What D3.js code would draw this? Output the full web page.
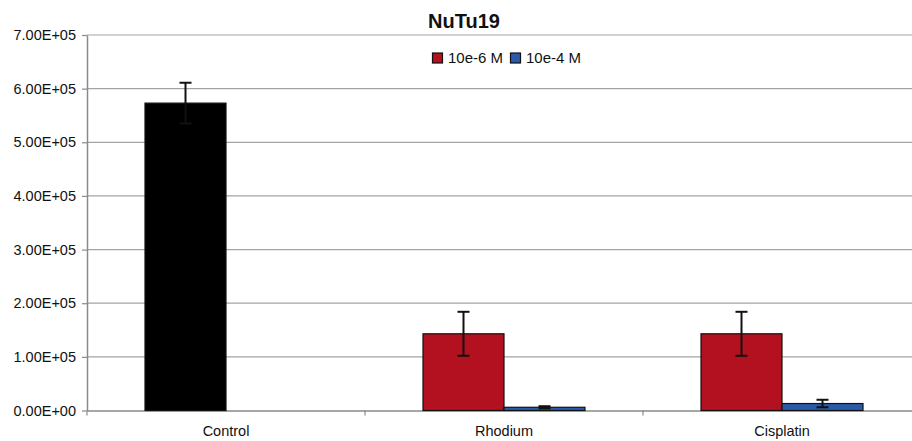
<!DOCTYPE html>
<html>
<head>
<meta charset="utf-8">
<script src="https://cdn.jsdelivr.net/npm/d3@7"></script>
<style>
  html, body { margin: 0; padding: 0; background: #fff; }
  svg { display: block; }
  text { font-family: "Liberation Sans", Arial, Helvetica, sans-serif; fill: #111; }
</style>
</head>
<body>
<svg id="chart" width="912" height="441"></svg>
<script>
// Cell counts for NuTu19 after treatment
const categories = ["Control", "Rhodium", "Cisplatin"];
const seriesNames = ["10e-6 M", "10e-4 M"];
const lowDose = [573000, 143000, 143000];      // 10e-6 M (Control drawn in the first slot)
const lowDoseErr = [38000, 41000, 41000];
const highDose = [null, 6000, 13000];          // 10e-4 M
const highDoseErr = [null, 2000, 7000];
const yTicks = [0, 100000, 200000, 300000, 400000, 500000, 600000, 700000];

const seriesColors = ["#b3111f", "#2a5baa"];
const controlColor = "#000000";

const svg = d3.select("#chart");
const plot = { left: 87, right: 921, top: 35, bottom: 410.5 };

const y = d3.scaleLinear().domain([0, 700000]).range([plot.bottom, plot.top]);
const x0 = d3.scaleBand().domain(categories).range([plot.left, plot.right]).paddingInner(0).paddingOuter(0);
const barW = 81;
const x1 = d3.scaleBand().domain(seriesNames)
  .range([(x0.bandwidth() - 2 * barW) / 2, (x0.bandwidth() + 2 * barW) / 2])
  .paddingInner(0).paddingOuter(0);

function sci(v) {
  if (v === 0) return "0.00E+00";
  const e = Math.floor(Math.log10(Math.abs(v)));
  const m = v / Math.pow(10, e);
  return m.toFixed(2) + "E" + (e >= 0 ? "+" : "-") + String(Math.abs(e)).padStart(2, "0");
}

// gridlines
svg.append("g")
  .selectAll("line")
  .data(yTicks.filter(d => d > 0))
  .join("line")
  .attr("x1", plot.left).attr("x2", plot.right)
  .attr("y1", d => y(d)).attr("y2", d => y(d))
  .attr("stroke", "#a3a3a3").attr("stroke-width", 1.2);

// y axis
const yAxis = svg.append("g")
  .attr("transform", `translate(${plot.left},0)`)
  .call(d3.axisLeft(y).tickValues(yTicks).tickFormat(sci).tickSize(5).tickSizeOuter(0).tickPadding(6));
yAxis.select(".domain").attr("stroke", "#8a8a8a").attr("stroke-width", 1.5);
yAxis.selectAll(".tick line").attr("stroke", "#8a8a8a").attr("stroke-width", 1.2);
yAxis.selectAll(".tick text")
  .style("font-family", "'Liberation Sans', Arial, sans-serif")
  .style("font-size", "14.5px").attr("fill", "#111");

// x axis
const xAxis = svg.append("g")
  .attr("transform", `translate(0,${plot.bottom})`)
  .call(d3.axisBottom(x0).tickSize(0).tickSizeOuter(0).tickPadding(15.5));
xAxis.select(".domain").attr("stroke", "#8a8a8a").attr("stroke-width", 1.5);
xAxis.selectAll(".tick text")
  .style("font-family", "'Liberation Sans', Arial, sans-serif")
  .style("font-size", "14.5px").attr("fill", "#111");
// category separators
svg.append("g")
  .selectAll("line")
  .data(categories)
  .join("line")
  .attr("x1", d => x0(d)).attr("x2", d => x0(d))
  .attr("y1", plot.bottom).attr("y2", plot.bottom + 5)
  .attr("stroke", "#8a8a8a").attr("stroke-width", 1.2);

// bars
const rows = [];
categories.forEach((c, i) => {
  rows.push({ cat: c, s: seriesNames[0], v: lowDose[i], err: lowDoseErr[i],
              color: c === "Control" ? controlColor : seriesColors[0] });
  if (highDose[i] != null) {
    rows.push({ cat: c, s: seriesNames[1], v: highDose[i], err: highDoseErr[i], color: seriesColors[1] });
  }
});

svg.append("g")
  .selectAll("rect")
  .data(rows)
  .join("rect")
  .attr("x", d => x0(d.cat) + x1(d.s))
  .attr("width", x1.bandwidth())
  .attr("y", d => y(d.v))
  .attr("height", d => y(0) - y(d.v))
  .attr("fill", d => d.color)
  .attr("stroke", "#111").attr("stroke-width", 1.2);

// error bars
const eb = svg.append("g").attr("stroke", "#111").attr("stroke-width", 2);
rows.forEach(d => {
  const cx = x0(d.cat) + x1(d.s) + x1.bandwidth() / 2;
  const top = y(d.v + d.err), bot = y(d.v - d.err);
  eb.append("line").attr("x1", cx).attr("x2", cx).attr("y1", top).attr("y2", bot);
  eb.append("line").attr("x1", cx - 6).attr("x2", cx + 6).attr("y1", top).attr("y2", top);
  eb.append("line").attr("x1", cx - 6).attr("x2", cx + 6).attr("y1", bot).attr("y2", bot);
});

// title
svg.append("text")
  .attr("x", 464).attr("y", 27.5)
  .attr("text-anchor", "middle")
  .style("font-size", "20px").style("font-weight", "bold")
  .text("NuTu19");

// legend
const legend = svg.append("g").attr("transform", "translate(432,53)");
const legendX = [0, 78];
seriesNames.forEach((name, i) => {
  const g = legend.append("g").attr("transform", `translate(${legendX[i]},0)`);
  g.append("rect").attr("x", 0.5).attr("y", 0).attr("width", 10).attr("height", 10)
    .attr("fill", seriesColors[i]).attr("stroke", "#111").attr("stroke-width", 1.2);
  g.append("text").attr("x", 16).attr("y", 10)
    .style("font-size", "15px").text(name);
});
</script>
</body>
</html>
